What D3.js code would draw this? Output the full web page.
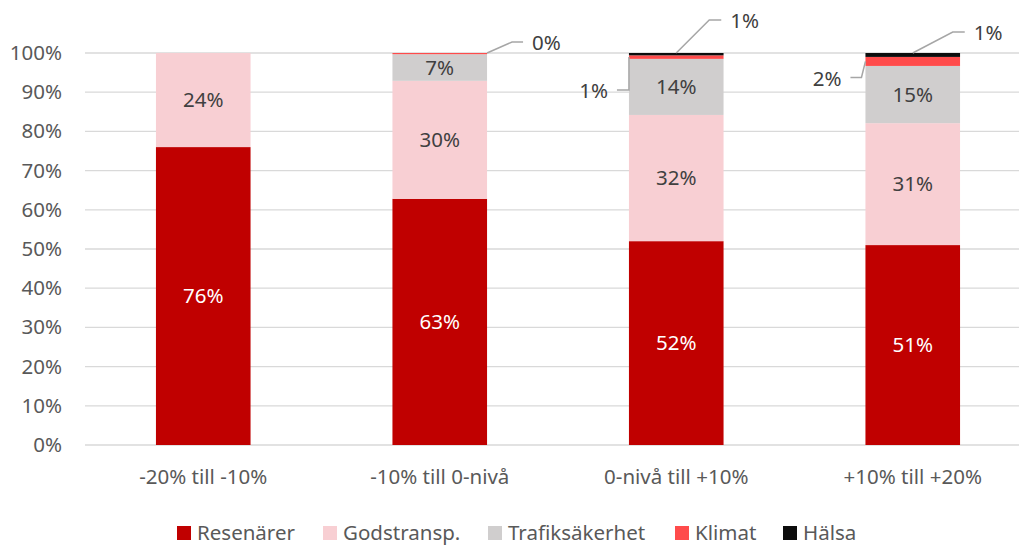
<!DOCTYPE html>
<html>
<head>
<meta charset="utf-8">
<script src="https://cdn.jsdelivr.net/npm/d3@7"></script>
<style>
  body { margin: 0; background: #fff; }
  text { font-family: "Noto Sans", "Open Sans", sans-serif; }
</style>
</head>
<body>
<div id="chart"></div>
<script>
var svgWidth = 1019;
var svgHeight = 548;
var fontSize = "20.5px";

// categories and series (percent shares)
var categories = ["-20% till -10%", "-10% till 0-nivå", "0-nivå till +10%", "+10% till +20%"];
var seriesNames = ["Resenärer", "Godstransp.", "Trafiksäkerhet", "Klimat", "Hälsa"];
var resenarer = [76, 62.8, 52.0, 51.0];
var godstransp = [24, 30.1, 32.2, 31.1];
var trafiksakerhet = [0, 6.8, 14.3, 14.6];
var klimat = [0, 0.3, 0.9, 2.3];
var halsa = [0, 0, 0.6, 1.0];
var yTicks = [0, 10, 20, 30, 40, 50, 60, 70, 80, 90, 100];

var colors = ["#c00000", "#f8cfd3", "#d0cece", "#ff4b4b", "#0d0d0d"];
var labelColors = ["#ffffff", "#404040", "#404040", "#404040", "#404040"];

var margin = { top: 53, left: 85, bottom: 103 };
var plotBottom = svgHeight - margin.bottom;

var rows = categories.map(function(c, i) {
  return {
    cat: c,
    "Resenärer": resenarer[i],
    "Godstransp.": godstransp[i],
    "Trafiksäkerhet": trafiksakerhet[i],
    "Klimat": klimat[i],
    "Hälsa": halsa[i]
  };
});

var stacked = d3.stack().keys(seriesNames)(rows);

var svg = d3.select("#chart")
  .append("svg")
  .attr("width", svgWidth)
  .attr("height", svgHeight);

var x = d3.scaleBand()
  .domain(categories)
  .range([margin.left, margin.left + 4 * 236.5])
  .paddingInner(0.6)
  .paddingOuter(0.3);

var y = d3.scaleLinear()
  .domain([0, 100])
  .range([plotBottom, margin.top]);

// gridlines
svg.append("g")
  .selectAll("line")
  .data(yTicks)
  .enter()
  .append("line")
  .attr("x1", margin.left)
  .attr("x2", svgWidth)
  .attr("y1", d => y(d))
  .attr("y2", d => y(d))
  .attr("stroke", "#d9d9d9")
  .attr("stroke-width", 1.3);

// y axis labels
var yAxis = d3.axisLeft(y)
  .tickValues(yTicks)
  .tickFormat(d => d + "%")
  .tickSize(0)
  .tickPadding(0);

var yg = svg.append("g")
  .attr("transform", "translate(62,0)")
  .call(yAxis);
yg.select(".domain").remove();
yg.selectAll("text")
  .attr("fill", "#595959")
  .style("font-size", fontSize);

// bars
var layers = svg.append("g")
  .selectAll("g")
  .data(stacked)
  .enter()
  .append("g")
  .attr("fill", (d, i) => colors[i]);

layers.selectAll("rect")
  .data(d => d)
  .enter()
  .append("rect")
  .attr("x", d => x(d.data.cat))
  .attr("width", x.bandwidth())
  .attr("y", d => y(d[1]))
  .attr("height", d => y(d[0]) - y(d[1]));

// x axis
var xAxis = d3.axisBottom(x).tickSize(0).tickPadding(0);
var xg = svg.append("g")
  .attr("transform", "translate(0," + (plotBottom + 24) + ")")
  .call(xAxis);
xg.select(".domain").remove();
xg.selectAll("text")
  .attr("fill", "#595959")
  .style("font-size", fontSize);

// labels inside segments (first three series)
stacked.slice(0, 3).forEach(function(layer, si) {
  svg.append("g")
    .selectAll("text")
    .data(layer.filter(d => d[1] - d[0] > 3))
    .enter()
    .append("text")
    .attr("x", d => x(d.data.cat) + x.bandwidth() / 2)
    .attr("y", d => (y(d[0]) + y(d[1])) / 2)
    .attr("dy", "0.35em")
    .attr("text-anchor", "middle")
    .attr("fill", labelColors[si])
    .style("font-size", fontSize)
    .text(d => Math.round(d[1] - d[0]) + "%");
});

// callout labels for the thin segments
var callouts = [
  { s: 3, c: 1, from: "right", dx: 25, dy: -11, tx: 11 },
  { s: 4, c: 2, from: "top", dx: 33, dy: -33, tx: 12 },
  { s: 3, c: 2, from: "left", dx: 0, dy: 33, tx: -12 },
  { s: 4, c: 3, from: "top", dx: 40, dy: -21, tx: 12 },
  { s: 3, c: 3, from: "left", dx: -4, dy: 16, tx: -11 }
];

var co = svg.append("g");
callouts.forEach(function(k) {
  var seg = stacked[k.s][k.c];
  var cat = categories[k.c];
  var x0, y0;
  if (k.from === "right") {
    x0 = x(cat) + x.bandwidth();
    y0 = y(seg[1]);
  } else if (k.from === "top") {
    x0 = x(cat) + x.bandwidth() / 2;
    y0 = y(seg[1]);
  } else {
    x0 = x(cat);
    y0 = (y(seg[0]) + y(seg[1])) / 2;
  }
  var x1 = x0 + k.dx, y1 = y0 + k.dy, x2 = x1 + k.tx;
  co.append("polyline")
    .attr("points", [[x0, y0], [x1, y1], [x2, y1]].join(" "))
    .attr("fill", "none")
    .attr("stroke", "#a6a6a6")
    .attr("stroke-width", 1.5);
  var val = Math.round(seg[1] - seg[0]);
  co.append("text")
    .attr("x", k.tx > 0 ? x2 + 9 : x2 - 9)
    .attr("y", y1 + 1)
    .attr("dy", "0.35em")
    .attr("text-anchor", k.tx > 0 ? "start" : "end")
    .attr("fill", "#404040")
    .style("font-size", fontSize)
    .text(val + "%");
});

// legend (kept just inside the bottom edge)
var legendX = [177, 323, 488, 675, 783];
var legend = svg.append("g")
  .selectAll("g")
  .data(seriesNames)
  .enter()
  .append("g")
  .attr("transform", (d, i) => "translate(" + legendX[i] + ",526)");

legend.append("rect")
  .attr("width", 14)
  .attr("height", 14)
  .attr("fill", (d, i) => colors[i]);

legend.append("text")
  .attr("x", 20)
  .attr("y", 14)
  .attr("fill", "#595959")
  .style("font-size", fontSize)
  .text(d => d);
</script>
</body>
</html>
